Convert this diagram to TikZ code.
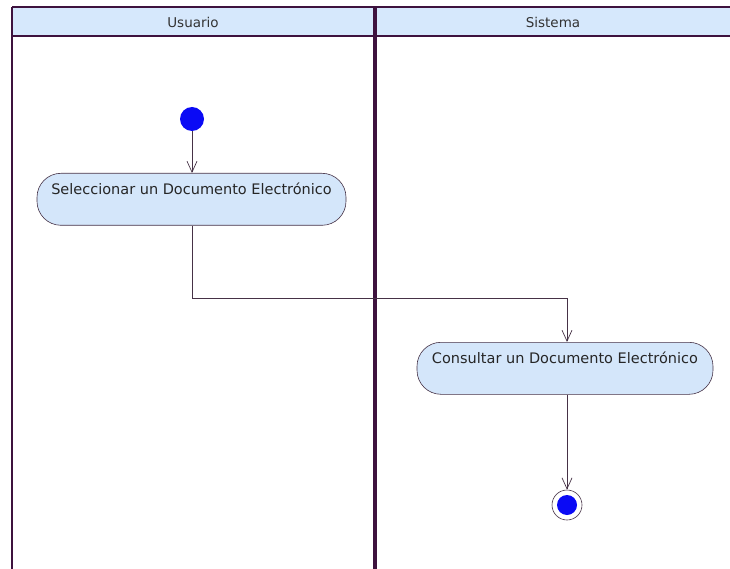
\documentclass[tikz,border=0pt]{standalone}
\usepackage{fontspec}
\setmainfont{DejaVu Sans}
\usetikzlibrary{arrows.meta,calc}
\definecolor{laneline}{RGB}{62,18,62}
\definecolor{headfill}{RGB}{214,232,252}
\definecolor{actfill}{RGB}{212,230,250}
\definecolor{flow}{RGB}{70,50,70}
\definecolor{dotblue}{RGB}{10,10,245}
\tikzset{
  lanerule/.style={draw=laneline, line width=2.6pt},
  lanetitle/.style={font=\fontsize{13.5}{15}\selectfont, text=black!80},
  action/.style={draw=flow, line width=0.6pt, fill=actfill, rounded corners=24pt,
    minimum width=#1, inner xsep=0pt, inner ysep=5pt, text height=16pt, text depth=26pt,
    font=\fontsize{14.5}{16}\selectfont, text=black!85},
  initdot/.style={circle, fill=dotblue, minimum size=24pt, inner sep=0pt},
  finalring/.style={circle, draw=flow, line width=0.6pt, fill=white, minimum size=30pt, inner sep=0pt},
  finaldot/.style={circle, fill=dotblue, minimum size=20pt, inner sep=0pt},
  flowarrow/.style={draw=flow, line width=0.7pt, -{Straight Barb[length=11pt,width=10pt,line width=0.7pt]}},
}
\begin{document}
\begin{tikzpicture}[x=1pt,y=-1pt]
  \useasboundingbox (0,0) rectangle (730,569);
  % swimlane headers
  \fill[headfill] (12,7) rectangle (730,36);
  \draw[lanerule] (12,7) -- (730,7);
  \draw[lanerule] (12,36) -- (730,36);
  \draw[lanerule] (12,7) -- (12,569);
  \draw[laneline, line width=3.2pt] (375,7) -- (375,569);
  \node[lanetitle] (usr) at (193,22) {Usuario};
  \node[lanetitle] (sys) at (553,22) {Sistema};
  % activities
  \node[initdot] (start) at (192,119) {};
  \node[action=309pt, anchor=north] (sel) at (191.5,173) {Seleccionar un Documento Electrónico};
  \node[action=296pt, anchor=north] (con) at (565,342) {Consultar un Documento Electrónico};
  \node[finalring] (stop) at (567,505) {};
  \node[finaldot] (stopdot) at (stop.center) {};
  \coordinate (bend) at (192,298);
  % control flow
  \draw[flowarrow] (start.south) -- (sel.north -| start);
  \draw[flowarrow] (sel.south -| start) -- (bend) -| (con.north -| stop);
  \draw[flowarrow] (con.south -| stop) -- (stop.north);
\end{tikzpicture}
\end{document}
